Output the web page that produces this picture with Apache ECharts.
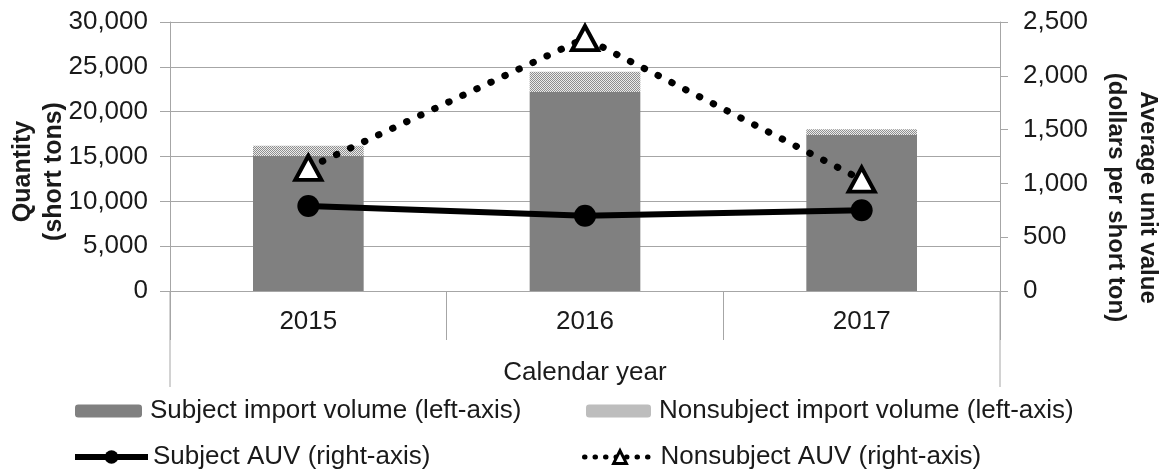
<!DOCTYPE html>
<html>
<head>
<meta charset="utf-8">
<script src="https://cdn.jsdelivr.net/npm/echarts@6/dist/echarts.min.js"></script>
<style>
  html, body { margin: 0; padding: 0; background: #fff; }
  #chart { width: 1167px; height: 475px; }
</style>
</head>
<body>
<div id="chart"></div>
<script>
// data
var years = ['2015', '2016', '2017'];
var subjectVolume = [15050, 22200, 17400];
var nonsubjectVolume = [1150, 2250, 650];
var subjectAuv = [790, 700, 750];
var nonsubjectAuv = [1145, 2350, 1035];

var FONT = '"Liberation Sans", Arial, sans-serif';
var GRAY = '#a6a6a6';
var TXT = '#1a1a1a';

// grid box
var gl = 170, gr = 167, gt = 22, gb = 184;
var W = 1167, H = 475;

// little dither pattern for the nonsubject stack
function makePattern() {
  var c = document.createElement('canvas');
  c.width = 4; c.height = 4;
  var ctx = c.getContext('2d');
  ctx.fillStyle = '#ececec';
  ctx.fillRect(0, 0, 4, 4);
  ctx.fillStyle = '#8e8e8e';
  for (var y = 0; y < 4; y++) {
    for (var x = 0; x < 4; x++) {
      if ((x + y) % 2 === 0) ctx.fillRect(x, y, 1, 1);
    }
  }
  return c;
}
var pattern = { image: makePattern(), repeat: 'repeat' };

var chart = echarts.init(document.getElementById('chart'));

function legendAt(name, left, top, w, h, pad, extra) {
  var l = {
    data: [name],
    left: left, top: top,
    padding: 0,
    itemWidth: w, itemHeight: h,
    itemGap: 0,
    selectedMode: false,
    textStyle: { fontFamily: FONT, fontSize: 26, color: TXT, padding: [0, 0, 0, pad] }
  };
  for (var k in extra) l[k] = extra[k];
  return l;
}

var option = {
  animation: false,
  backgroundColor: '#fff',
  textStyle: { fontFamily: FONT },
  grid: { left: gl, right: gr, top: gt, bottom: gb, containLabel: false, outerBoundsMode: 'none' },
  legend: [
    legendAt('Subject import volume (left-axis)', 75, 398, 67, 13, 3),
    legendAt('Nonsubject import volume (left-axis)', 586, 398, 65, 13, 3),
    legendAt('Subject AUV (right-axis)', 72, 444, 73, 17, 0, {
      lineStyle: { width: 6, color: '#000' }
    }),
    legendAt('Nonsubject AUV (right-axis)', 582, 444, 71, 16, 0, {
      lineStyle: { width: 5, color: '#000', type: [0.5, 10], cap: 'round' },
      itemStyle: { color: '#fff', borderColor: '#000', borderWidth: 3 }
    })
  ],
  xAxis: {
    type: 'category',
    data: years,
    axisLine: { lineStyle: { color: GRAY, width: 1 } },
    axisTick: { show: true, interval: 0, length: 49, lineStyle: { color: GRAY, width: 1 } },
    axisLabel: { fontSize: 26, color: TXT, margin: 18, fontFamily: FONT },
    name: 'Calendar year',
    nameLocation: 'middle',
    nameGap: 69,
    nameMoveOverlap: false,
    nameTextStyle: { fontSize: 26, color: TXT, fontFamily: FONT }
  },
  yAxis: [
    {
      type: 'value',
      min: 0, max: 30000, interval: 5000,
      axisLine: { show: true, lineStyle: { color: GRAY, width: 1 } },
      axisTick: { show: true, length: 10, lineStyle: { color: GRAY, width: 1 } },
      splitLine: { show: true, lineStyle: { color: GRAY, width: 1 } },
      axisLabel: {
        fontSize: 26, color: TXT, margin: 22, fontFamily: FONT,
        formatter: function (v) { return v.toLocaleString('en-US'); }
      },
      name: 'Quantity\n(short tons)',
      nameLocation: 'middle',
      nameGap: 100,
      nameMoveOverlap: false,
      nameTextStyle: {
        fontSize: 25, fontWeight: 'bold', color: TXT, fontFamily: FONT,
        lineHeight: 31, padding: [0, 30, 0, 0]
      }
    },
    {
      type: 'value',
      min: 0, max: 2500, interval: 500,
      position: 'right',
      axisLine: { show: true, lineStyle: { color: GRAY, width: 1 } },
      axisTick: { show: true, length: 8, lineStyle: { color: GRAY, width: 1 } },
      splitLine: { show: false },
      axisLabel: {
        fontSize: 26, color: TXT, margin: 23, fontFamily: FONT,
        formatter: function (v) { return v.toLocaleString('en-US'); }
      },
      name: 'Average unit value\n(dollars per short ton)',
      nameLocation: 'middle',
      nameRotate: -90,
      nameGap: 100,
      nameMoveOverlap: false,
      nameTextStyle: {
        fontSize: 24, fontWeight: 'bold', color: TXT, fontFamily: FONT,
        lineHeight: 32, padding: [0, 0, 0, 82]
      }
    }
  ],
  series: [
    {
      name: 'Subject import volume (left-axis)',
      type: 'bar',
      stack: 'vol',
      barWidth: '40%',
      data: subjectVolume,
      itemStyle: { color: '#808080' }
    },
    {
      name: 'Nonsubject import volume (left-axis)',
      type: 'bar',
      stack: 'vol',
      barWidth: '40%',
      data: nonsubjectVolume,
      itemStyle: { color: pattern }
    },
    {
      name: 'Subject AUV (right-axis)',
      type: 'line',
      yAxisIndex: 1,
      data: subjectAuv,
      symbol: 'circle',
      symbolSize: 22,
      itemStyle: { color: '#000' },
      lineStyle: { color: '#000', width: 6 },
      z: 4
    },
    {
      name: 'Nonsubject AUV (right-axis)',
      type: 'line',
      yAxisIndex: 1,
      data: nonsubjectAuv,
      symbol: 'triangle',
      symbolSize: [26, 24],
      itemStyle: { color: '#fff', borderColor: '#000', borderWidth: 4 },
      lineStyle: { color: '#000', width: 7, type: [0.5, 15], cap: 'round' },
      z: 5
    }
  ],
  graphic: [
    // outer edges of the category axis box run further down than the dividers
    { type: 'line', shape: { x1: gl, y1: H - gb, x2: gl, y2: 387 }, style: { stroke: GRAY, lineWidth: 1 }, silent: true },
    { type: 'line', shape: { x1: W - gr, y1: H - gb, x2: W - gr, y2: 387 }, style: { stroke: GRAY, lineWidth: 1 }, silent: true }
  ]
};

chart.setOption(option);
</script>
</body>
</html>
